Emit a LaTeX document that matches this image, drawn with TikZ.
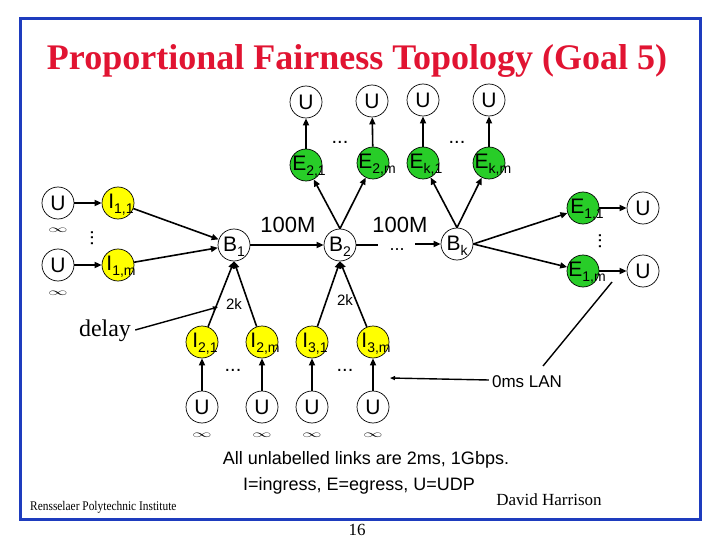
\documentclass[tikz,border=0pt]{standalone}
\usepackage{fontspec}
\setmainfont{Liberation Sans}
\newfontfamily\timesf{Liberation Serif}
\usetikzlibrary{arrows.meta}
\definecolor{frameblue}{RGB}{30,60,190}
\definecolor{titlered}{RGB}{225,20,50}
\definecolor{egreen}{RGB}{40,205,40}
\definecolor{iyellow}{RGB}{255,255,0}
\newcommand\subs[1]{\raisebox{-0.45ex}{\fontsize{14}{14}\selectfont #1}}
\newcommand\infsym{\scalebox{1.6}[0.85]{$\infty$}}
\begin{document}
\begin{tikzpicture}[x=1pt,y=-1pt,
  nd/.style={circle,draw=black,line width=0.7pt,minimum size=32pt,inner sep=0pt,font=\fontsize{21}{21}\selectfont},
  unode/.style={nd,fill=white},
  bnode/.style={nd,fill=white},
  inode/.style={nd,fill=iyellow},
  enode/.style={nd,fill=egreen},
  txt/.style={inner sep=0pt,font=\fontsize{21}{21}\selectfont},
  lnk/.style={line width=1.6pt,-{Triangle[length=7pt,width=6pt]}},
  thinlnk/.style={line width=1.4pt,-{Triangle[length=5pt,width=4pt]}},
  dots/.style={font=\fontsize{20}{20}\selectfont,inner sep=0pt},
  inf/.style={font=\fontsize{12}{12}\selectfont,inner sep=0pt},
  lbl/.style={inner sep=0pt}
]
\useasboundingbox (0,0) rectangle (720,540);
\fill[white] (0,0) rectangle (720,540);
\draw[frameblue,line width=3pt] (20,19) rectangle (700,519);

\node[lbl,text=titlered,font=\timesf\bfseries\fontsize{36}{36}\selectfont] (title) at (357,61) {Proportional Fairness Topology (Goal 5)};

% left ingress
\node[unode] (ul1) at (58,203) {U};
\node[unode] (ul2) at (58,265) {U};
\node[inode] (i11) at (118,203) {};
\node[inode] (i1m) at (118,265) {};
\node[txt] (i11t) at (121,205) {I\subs{1,1}};
\node[txt] (i1mt) at (121,267) {I\subs{1,m}};
\node[inf] (infl1) at (58,230) {\infsym};
\node[inf] (infl2) at (58,293) {\infsym};
\node[dots] (vdl) at (92,238) {\rotatebox{90}{...}};

% backbone
\node[bnode] (b1) at (234,245) {};
\node[bnode] (b2) at (340,245) {};
\node[bnode] (bk) at (457,244) {};
\node[txt] (b1t) at (234,247) {B\subs{1}};
\node[txt] (b2t) at (340,247) {B\subs{2}};
\node[txt] (bkt) at (457,246) {B\subs{k}};
\node[lbl,font=\fontsize{22}{22}\selectfont] (m1) at (288,225) {100M};
\node[lbl,font=\fontsize{22}{22}\selectfont] (m2) at (400,225) {100M};
\node[dots,font=\fontsize{18}{18}\selectfont] (hd) at (397,250) {...};
\coordinate (g1) at (378,245);
\coordinate (g2) at (415,244);

% top egress
\node[enode] (e21) at (306,165) {};
\node[enode] (e2m) at (373,163) {};
\node[enode] (ek1) at (423,163) {};
\node[enode] (ekm) at (489,163) {};
\node[txt] (e21t) at (309,167) {E\subs{2,1}};
\node[txt] (e2mt) at (377,165) {E\subs{2,m}};
\node[txt] (ek1t) at (426,165) {E\subs{k,1}};
\node[txt] (ekmt) at (493,165) {E\subs{k,m}};
\node[unode] (ut1) at (306,102) {U};
\node[unode] (ut2) at (372,101) {U};
\node[unode] (ut3) at (423,100) {U};
\node[unode] (ut4) at (489,100) {U};
\node[dots] (td1) at (340,142) {...};
\node[dots] (td2) at (457,142) {...};

% right egress
\node[enode] (e11) at (583,208) {};
\node[enode] (e1m) at (583,271) {};
\node[txt] (e11t) at (587,210) {E\subs{1,1}};
\node[txt] (e1mt) at (587,273) {E\subs{1,m}};
\node[unode] (ur1) at (643,208) {U};
\node[unode] (ur2) at (643,271) {U};
\node[dots] (vdr) at (600,241) {\rotatebox{90}{...}};

% bottom ingress
\node[inode] (i21) at (202,342) {};
\node[inode] (i2m) at (262,342) {};
\node[inode] (i31) at (312,342) {};
\node[inode] (i3m) at (373,342) {};
\node[txt] (i21t) at (205,344) {I\subs{2,1}};
\node[txt] (i2mt) at (265,344) {I\subs{2,m}};
\node[txt] (i31t) at (315,344) {I\subs{3,1}};
\node[txt] (i3mt) at (376,344) {I\subs{3,m}};
\node[unode] (ub1) at (202,407) {U};
\node[unode] (ub2) at (262,407) {U};
\node[unode] (ub3) at (312,407) {U};
\node[unode] (ub4) at (373,407) {U};
\node[inf] (infb1) at (202,435) {\infsym};
\node[inf] (infb2) at (262,435) {\infsym};
\node[inf] (infb3) at (312,435) {\infsym};
\node[inf] (infb4) at (373,435) {\infsym};
\node[dots] (bd1) at (233,370) {...};
\node[dots] (bd2) at (345,370) {...};
\node[lbl,font=\fontsize{15}{15}\selectfont] (k1) at (234,304) {2k};
\node[lbl,font=\fontsize{15}{15}\selectfont] (k2) at (345,300) {2k};

% connectors
\draw[lnk] (ul1) -- (i11);
\draw[lnk] (ul2) -- (i1m);
\draw[lnk] (i11) -- (b1);
\draw[lnk] (i1m) -- (b1);
\draw[lnk] (b1) -- (b2);
\draw[lnk] (b2.north) -- (e21);
\draw[lnk] (b2.north) -- (e2m);
\draw[line width=1.6pt] (b2) -- (g1);
\draw[lnk] (g2) -- (bk);
\draw[lnk] (bk.north) -- (ek1);
\draw[lnk] (bk.north) -- (ekm);
\draw[lnk] (bk.east) -- (e11);
\draw[lnk] (bk.east) -- (e1m);
\draw[lnk] (e21) -- (ut1);
\draw[lnk] (e2m) -- (ut2);
\draw[lnk] (ek1) -- (ut3);
\draw[lnk] (ekm) -- (ut4);
\draw[lnk] (e11) -- (ur1);
\draw[lnk] (e1m) -- (ur2);
\draw[lnk] (i21) -- (b1.south);
\draw[lnk] (i2m) -- (b1.south);
\draw[lnk] (i31) -- (b2.south);
\draw[lnk] (i3m) -- (b2.south);
\draw[lnk] (ub1) -- (i21);
\draw[lnk] (ub2) -- (i2m);
\draw[lnk] (ub3) -- (i31);
\draw[lnk] (ub4) -- (i3m);

% annotations
\node[lbl,font=\timesf\fontsize{24}{24}\selectfont] (delay) at (105,331) {delay};
\coordinate (dtip) at (218,307);
\draw[thinlnk] (delay.east) ++(4,-1) -- (dtip);

\node[lbl,font=\fontsize{17}{17}\selectfont] (lan) at (527,382) {0ms LAN};
\coordinate (lantip) at (390,378);
\coordinate (lanup) at (612,282);
\coordinate (lanstart) at (543,366);
\draw[thinlnk] (lan.west) ++(-3,-2) -- (lantip);
\draw[line width=1.4pt] (lanstart) -- (lanup);

\node[lbl,font=\fontsize{18}{18}\selectfont] (note1) at (366,460) {All unlabelled links are 2ms, 1Gbps.};
\node[lbl,font=\fontsize{18}{18}\selectfont] (note2) at (359,486) {I=ingress, E=egress, U=UDP};
\node[lbl,font=\timesf\fontsize{17}{17}\selectfont] (author) at (549,500) {David Harrison};
\node[lbl,anchor=west,font=\timesf\fontsize{12}{12}\selectfont] (rpi) at (30,507) {\scalebox{0.95}[1.1]{Rensselaer Polytechnic Institute}};
\node[lbl,font=\timesf\fontsize{17}{17}\selectfont] (pg) at (357,530) {16};
\end{tikzpicture}
\end{document}
